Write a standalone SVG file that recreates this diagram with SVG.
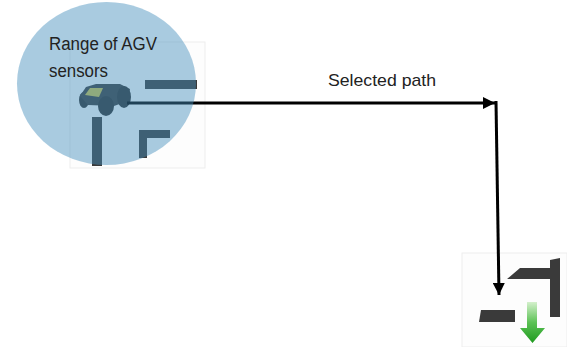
<svg xmlns="http://www.w3.org/2000/svg" width="567" height="347" viewBox="0 0 567 347">
  <style>
    .txt { font-family: "Liberation Sans", Arial, sans-serif; fill: #222; }
    .map { fill: #fdfdfd; stroke: #ededed; stroke-width: 1; }
    .wall { fill: #3a3a3a; }
    .tyre { fill: #2f2f2f; }
    .route { fill: none; stroke: #000; stroke-width: 3; }
  </style>
  <defs>
    <marker id="head" markerUnits="userSpaceOnUse" markerWidth="12" markerHeight="12" refX="12" refY="6" orient="auto">
      <path d="M0,0 L12,6 L0,12 Z" fill="#000"/>
    </marker>
    <linearGradient id="goDown" x1="0" y1="0" x2="0" y2="1">
      <stop offset="0" stop-color="#d4f0cc"/>
      <stop offset="0.5" stop-color="#5cc255"/>
      <stop offset="1" stop-color="#1f9a1f"/>
    </linearGradient>
  </defs>

  <!-- start area: map tile with walls and the AGV -->
  <g id="start-map">
    <rect class="map" x="70" y="42" width="135" height="126"/>
    <rect class="wall" x="145" y="80" width="52" height="9"/>
    <rect class="wall" x="92" y="117" width="10" height="49"/>
    <path class="wall" d="M139,130 H170 V138 H147 V158 H139 Z"/>
  </g>

  <g id="agv">
    <ellipse class="tyre" cx="84" cy="100" rx="5" ry="8"/>
    <path d="M80,96 L86,87 L96,84 L120,84 L130,89 L128,101 L114,106 L88,105 Z" fill="#3c3c3c"/>
    <path d="M85,95 L90,88 L103,88 L99,97 Z" fill="#cfc24a"/>
    <ellipse class="tyre" cx="106" cy="106" rx="8" ry="10"/>
    <ellipse class="tyre" cx="124" cy="97" rx="7" ry="11"/>
  </g>

  <!-- goal area: map tile with walls and exit arrow -->
  <g id="goal-map">
    <rect class="map" x="462" y="253" width="105" height="94"/>
    <path class="wall" d="M481,310 H515 V322 H479 Z"/>
    <path class="wall" d="M520,268 H550 V260 L560,258 V317 H550 V279 H507 Z"/>
    <path d="M527,302 H537 V328 H545 L532.5,343 L520,328 H527 Z" fill="url(#goDown)"/>
  </g>

  <!-- selected route -->
  <g id="connectors">
    <line class="route" x1="127" y1="103" x2="495" y2="103" marker-end="url(#head)"/>
    <line class="route" x1="496" y1="101" x2="499" y2="295" marker-end="url(#head)"/>
  </g>

  <!-- sensor range overlay -->
  <g id="sensor-range">
    <ellipse cx="106.5" cy="83.5" rx="89.5" ry="81.5" fill="#448ebc" fill-opacity="0.46"/>
    <text class="txt" x="49" y="50" font-size="18" textLength="108" lengthAdjust="spacingAndGlyphs">Range of AGV</text>
    <text class="txt" x="49" y="77" font-size="18" textLength="59" lengthAdjust="spacingAndGlyphs">sensors</text>
  </g>

  <g id="route-label">
    <text class="txt" x="328" y="86" font-size="17" textLength="108" lengthAdjust="spacingAndGlyphs">Selected path</text>
  </g>
</svg>
